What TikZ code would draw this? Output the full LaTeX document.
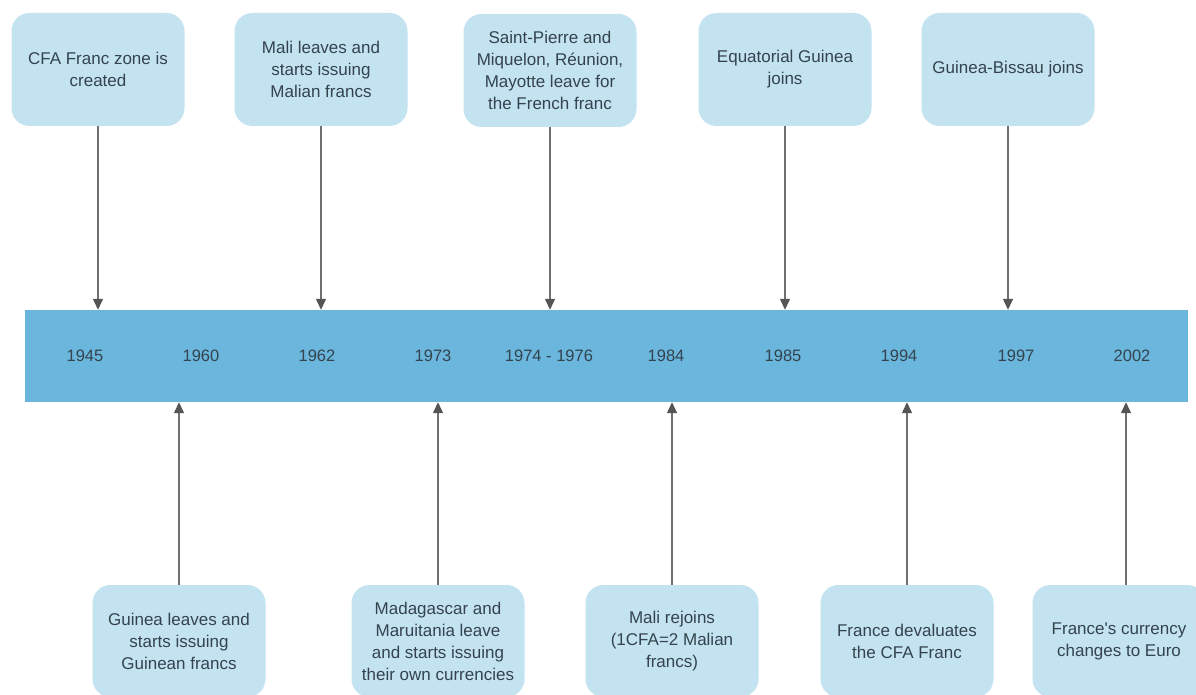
\documentclass[tikz,border=0pt]{standalone}
\usepackage{fontspec}
\setmainfont{Liberation Sans}
\usetikzlibrary{arrows.meta}
\definecolor{boxfill}{HTML}{C4E3F1}
\definecolor{barfill}{HTML}{6AB6DD}
\definecolor{txt}{HTML}{34434E}
\definecolor{linegray}{HTML}{707070}
\definecolor{headgray}{HTML}{555555}
\tikzset{
  evbox/.style={fill=boxfill, draw=none, rounded corners=18pt, minimum width=173pt,
    minimum height=113pt, align=center, text=txt, inner sep=2pt,
    font=\fontsize{17}{22}\selectfont},
  evboxb/.style={evbox, minimum height=112pt},
  yearlbl/.style={text=txt, font=\fontsize{16.5}{20}\selectfont, inner sep=0pt},
  arr/.style={draw=linegray, line width=1.3pt,
    -{Triangle[length=11pt,width=10pt,fill=headgray,color=headgray]}},
}
\begin{document}
\begin{tikzpicture}[x=1pt,y=-1pt]
\useasboundingbox (0,0) rectangle (1196,695);
\clip (0,0) rectangle (1196,695);
\fill[white] (0,0) rectangle (1196,695);
% bar
\node[fill=barfill, draw=none, minimum width=1163pt, minimum height=92pt, inner sep=0pt] (bar) at (606.5,356) {};
% years
\node[yearlbl] (y1945) at (85,356) {1945};
\node[yearlbl] (y1960) at (201,356) {1960};
\node[yearlbl] (y1962) at (317,356) {1962};
\node[yearlbl] (y1973) at (433,356) {1973};
\node[yearlbl] (y1974) at (549,356) {1974 - 1976};
\node[yearlbl] (y1984) at (666,356) {1984};
\node[yearlbl] (y1985) at (783,356) {1985};
\node[yearlbl] (y1994) at (899,356) {1994};
\node[yearlbl] (y1997) at (1016,356) {1997};
\node[yearlbl] (y2002) at (1132,356) {2002};
% top boxes
\node[evbox] (t1) at (98,69.5) {CFA Franc zone is\\created};
\node[evbox] (t2) at (321,69.5) {Mali leaves and\\starts issuing\\Malian francs};
\node[evbox] (t3) at (550,70.5) {Saint-Pierre and\\Miquelon, Réunion,\\Mayotte leave for\\the French franc};
\node[evbox] (t4) at (785,69.5) {Equatorial Guinea\\joins};
\node[evbox] (t5) at (1008,69.5) {Guinea-Bissau joins};
% bottom boxes
\node[evboxb] (b1) at (179,641) {Guinea leaves and\\starts issuing\\Guinean francs};
\node[evboxb] (b2) at (438,641) {Madagascar and\\Maruitania leave\\and starts issuing\\their own currencies};
\node[evboxb] (b3) at (672,641) {Mali rejoins\\(1CFA=2 Malian\\francs)};
\node[evboxb] (b4) at (907,641) {France devaluates\\the CFA Franc};
\node[evboxb] (b5) at (1119,641) {France\textquotesingle s currency\\changes to Euro};
% connectors
\draw[arr] (t1.south) -- (t1.south |- bar.north);
\draw[arr] (t2.south) -- (t2.south |- bar.north);
\draw[arr] (t3.south) -- (t3.south |- bar.north);
\draw[arr] (t4.south) -- (t4.south |- bar.north);
\draw[arr] (t5.south) -- (t5.south |- bar.north);
\draw[arr] (b1.north) -- (b1.north |- bar.south);
\draw[arr] (b2.north) -- (b2.north |- bar.south);
\draw[arr] (b3.north) -- (b3.north |- bar.south);
\draw[arr] (b4.north) -- (b4.north |- bar.south);
\coordinate (b5top) at ([xshift=7pt]b5.north);
\draw[arr] (b5top) -- (b5top |- bar.south);
\end{tikzpicture}
\end{document}
